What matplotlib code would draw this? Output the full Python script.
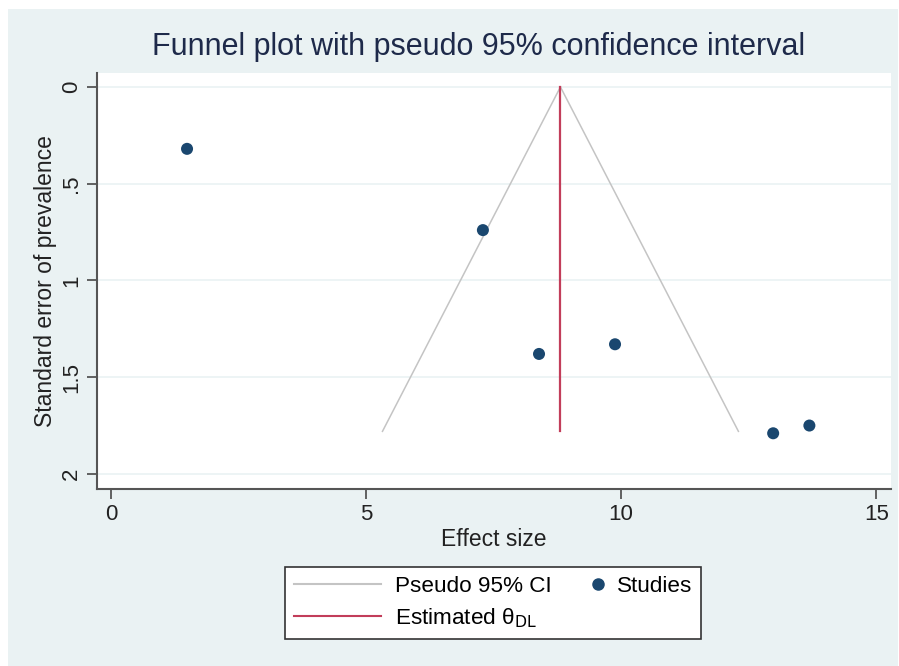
import numpy as np
import matplotlib
matplotlib.use('Agg')
import matplotlib.pyplot as plt
from matplotlib.lines import Line2D
from matplotlib.patches import Rectangle
from matplotlib.legend_handler import HandlerLine2D

plt.rcParams['font.family'] = ['Liberation Sans', 'DejaVu Sans']

# study data
effect = [1.49, 7.29, 8.39, 9.88, 12.98, 13.69]
se = [0.32, 0.74, 1.38, 1.33, 1.79, 1.75]

theta_dl = 8.81
se_max = 1.78
z = 1.96

x_ticks = [0, 5, 10, 15]
y_ticks = [0, 0.5, 1, 1.5, 2]
y_ticklabels = ['0', '.5', '1', '1.5', '2']

bg = '#eaf2f3'
navy = '#1a476f'
red = '#c23d5a'
ci_grey = '#c4c4c4'
axis_col = '#555555'


class MarkerAtEnd(HandlerLine2D):
    # put the legend marker at the right end of the handle box
    def create_artists(self, legend, orig_handle, xdescent, ydescent,
                       width, height, fontsize, trans):
        arts = super().create_artists(legend, orig_handle, xdescent, ydescent,
                                      width, height, fontsize, trans)
        for a in arts:
            a.set_xdata([width - xdescent - 4])
        return arts


def main():
    fig = plt.figure(figsize=(8.99, 6.66), dpi=100, facecolor='white')
    # stata-style outer panel
    fig.patches.append(Rectangle((8 / 899, 0), 890 / 899, 657 / 666,
                                 transform=fig.transFigure, facecolor=bg,
                                 edgecolor='none', zorder=-5))

    ax = fig.add_axes([97 / 899, 177 / 666, 794 / 899, 416 / 666])
    ax.set_facecolor('white')

    # funnel
    s = np.array([0, se_max])
    ax.plot(theta_dl - z * s, s, color=ci_grey, lw=1.1, zorder=2)
    ax.plot(theta_dl + z * s, s, color=ci_grey, lw=1.1, zorder=2)
    ax.plot([theta_dl, theta_dl], [0, se_max], color=red, lw=1.6, zorder=3)

    ax.scatter(effect, se, s=75, color=navy, zorder=4, edgecolors='none')

    ax.set_xlim(-0.275, 15.29)
    ax.set_ylim(2.078, -0.072)

    ax.set_xticks(x_ticks)
    ax.set_yticks(y_ticks)
    ax.set_yticklabels(y_ticklabels, rotation=90, va='center')
    ax.grid(axis='y', color=bg, lw=1.2)
    ax.set_axisbelow(True)

    for side in ['top', 'right']:
        ax.spines[side].set_visible(False)
    for side in ['left', 'bottom']:
        ax.spines[side].set_color(axis_col)
        ax.spines[side].set_linewidth(1.5)
    ax.tick_params(colors=axis_col, length=7.2, width=1.3, labelsize=16,
                   labelcolor='#222222', pad=3.6)

    ax.set_xlabel('Effect size', fontsize=16.5, color='#222222', labelpad=2)
    ax.set_ylabel('Standard error of prevalence', fontsize=16.5,
                  color='#222222', labelpad=3)

    fig.text(0.532, 0.929, 'Funnel plot with pseudo 95% confidence interval',
             ha='center', va='center', fontsize=22, color='#1e2a4a')

    studies = Line2D([], [], ls='', marker='o', color=navy, markersize=8)
    handles = [
        Line2D([], [], color=ci_grey, lw=1.5),
        Line2D([], [], color=red, lw=1.5),
        studies,
    ]
    labels = ['Pseudo 95% CI', 'Estimated θ$_{\\mathrm{DL}}$', 'Studies']
    leg = fig.legend(handles, labels, ncol=2, loc='center',
                     bbox_to_anchor=(493 / 899, 1 - 603 / 666),
                     fontsize=16.2, frameon=True, fancybox=False,
                     framealpha=1, facecolor='white',
                     edgecolor='#333333', handlelength=3.9,
                     handletextpad=0.6, columnspacing=-1.6,
                     labelspacing=0.4, borderpad=0.4,
                     handler_map={studies: MarkerAtEnd()})
    leg.get_frame().set_linewidth(1.2)

    plt.savefig('out.png', dpi=100, facecolor='white')


if __name__ == '__main__':
    main()
